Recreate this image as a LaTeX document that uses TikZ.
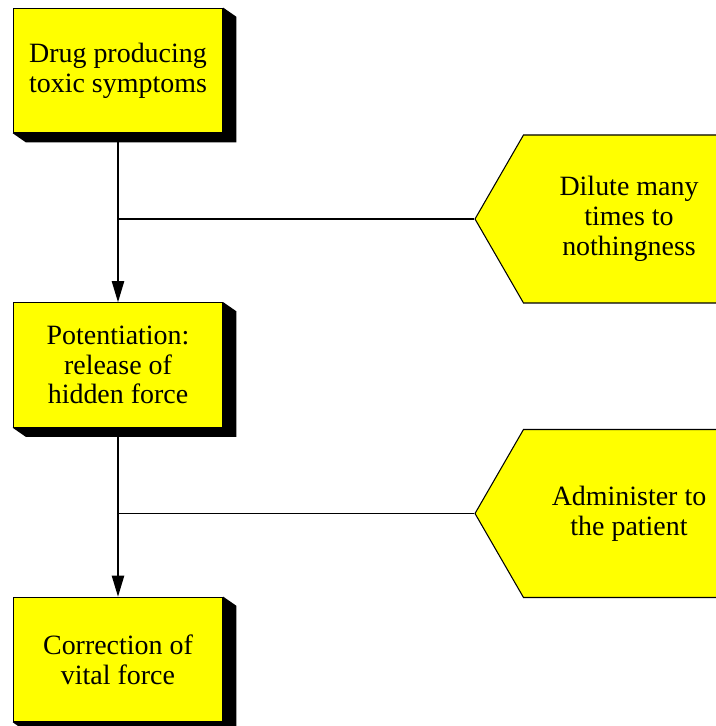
\documentclass[tikz,border=0pt]{standalone}
\usepackage{fontspec}
\setmainfont{Liberation Serif}
\usetikzlibrary{arrows.meta, shapes.symbols, backgrounds, calc}
\definecolor{boxyellow}{RGB}{255,255,0}

\tikzset{
  stepbox/.style={draw=black, line width=0.6pt, fill=boxyellow, rectangle,
    minimum width=4.19cm, minimum height=2.49cm, align=center, inner sep=0pt,
    font=\fontsize{15.9}{17}\selectfont},
  actionbox/.style={draw=black, line width=0.6pt, fill=boxyellow, signal,
    signal to=west and east, signal pointer angle=120,
    minimum width=6.16cm, minimum height=3.36cm, align=center, inner sep=0pt,
    font=\fontsize{15.9}{17}\selectfont},
  flow/.style={line width=0.8pt, -{Triangle[length=12pt,width=7pt]}},
  joinline/.style={line width=0.8pt}
}

\begin{document}
\begin{tikzpicture}
\useasboundingbox (0,0) rectangle (14.32,14.52);
\clip (0,0) rectangle (14.32,14.52);

\node[stepbox] (drug) at (2.36,13.11) {Drug producing\\toxic symptoms};
\node[stepbox] (poten) at (2.36,7.22) {Potentiation:\\release of\\hidden force};
\node[stepbox] (corr) at (2.36,1.33) {Correction of\\vital force};

\node[actionbox] (dilute) at (12.58,10.14) {Dilute many\\times to\\nothingness};
\node[actionbox] (admin) at (12.58,4.25) {Administer to\\the patient};

% shadows behind the boxes
\begin{scope}[on background layer]
\foreach \n in {drug,poten,corr}
  \fill[black] (\n.north east) -- ++(0.26,-0.18) -- ($(\n.south east)+(0.26,-0.18)$)
    -- ($(\n.south west)+(0.26,-0.18)$) -- (\n.south west) -- cycle;
\end{scope}

\draw[flow] (drug) -- (poten);
\draw[flow] (poten) -- (corr);
\draw[joinline] (dilute.west) -- (drug.south |- dilute.west); %into first arrow
\draw[joinline] (admin.west) -- (poten.south |- admin.west); %into second arrow
\end{tikzpicture}
\end{document}
